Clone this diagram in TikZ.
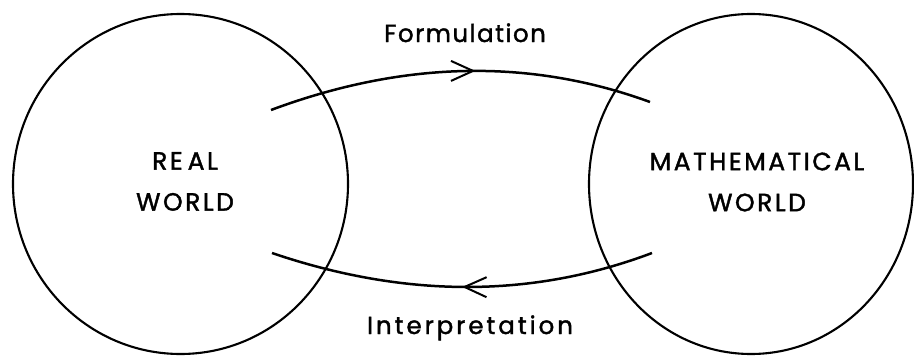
\documentclass[tikz,border=0pt]{standalone}
\usepackage{fontspec}
\newfontfamily\capsfont[LetterSpace=10,FakeBold=1.5]{Poppins}
\newfontfamily\lowfont[LetterSpace=6,FakeBold=1.5]{Poppins}
\newfontfamily\widelowfont[LetterSpace=12,FakeBold=1.5]{Poppins}
\usetikzlibrary{shapes.geometric,decorations.markings,arrows.meta}
\tikzset{
  world/.style={ellipse, draw, line width=2.1pt, inner sep=0pt},
  caps/.style={font=\capsfont\fontsize{25}{41}\selectfont, align=center, inner sep=0pt},
  lower/.style={font=\lowfont\fontsize{24.5}{28}\selectfont, inner sep=0pt, anchor=base},
  widelower/.style={lower, font=\widelowfont\fontsize{24.5}{28}\selectfont},
  flow/.style={line width=2.5pt, postaction={decorate}},
  midarrow/.style={decoration={markings, mark=at position #1 with {\arrow[line width=2pt]{Straight Barb[length=22pt,width=20pt]}}}}
}
\begin{document}
\begin{tikzpicture}[x=1pt,y=-1pt]
\useasboundingbox (0,0) rectangle (914,356);
\node[world, minimum width=335pt, minimum height=340pt] (rw) at (180.5,184) {};
\node[world, minimum width=324pt, minimum height=340pt] (mw) at (751,184) {};
\node[caps] (rwt) at (185,181.5) {RE\kern5pt AL\\WORLD};
\node[caps] (mwt) at (757,182) {MATHEMATICAL\\WORLD};
\coordinate (f1) at (271,110);
\coordinate (f2) at (650,102);
\coordinate (i1) at (652,253);
\coordinate (i2) at (272,253);
\draw[flow, midarrow=0.54] (f1) .. controls (403.3,60.7) and (529.7,58) .. (f2);
\draw[flow, midarrow=0.5] (i1) .. controls (532,298.3) and (405.3,298.3) .. (i2);
\node[lower] (ft) at (465,42) {Formulation};
\node[widelower] (it) at (470,334) {Interpretation};
\end{tikzpicture}
\end{document}
